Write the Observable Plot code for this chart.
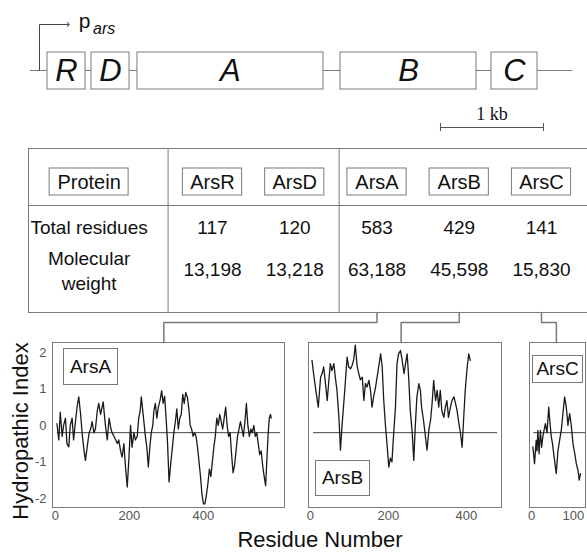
<!DOCTYPE html>
<html>
<head>
<meta charset="utf-8">
<script src="https://cdn.jsdelivr.net/npm/d3@7"></script>
<script src="https://cdn.jsdelivr.net/npm/@observablehq/plot@0.6"></script>
<style>
  html, body { margin:0; padding:0; background:#fff; }
  #root { position:relative; width:587px; height:553px; overflow:hidden; background:#fff;
          font-family:"Liberation Sans", Arial, Helvetica, sans-serif; color:#111; }
  #root svg { position:absolute; overflow:visible; }
  .lbl { position:absolute; box-sizing:border-box; border:1px solid #777; background:#fff;
         display:flex; align-items:center; justify-content:center; font-size:19px; color:#111; }
  .axt { position:absolute; font-size:22px; color:#111; white-space:nowrap; }
</style>
</head>
<body>
<div id="root"></div>
<script>
// ---------------- data ----------------
const genes = ["R", "D", "A", "B", "C"];
const geneStartKb = [0.078, 0.505, 0.951, 2.922, 4.388];
const geneEndKb   = [0.447, 0.874, 2.757, 4.243, 4.835];
const backboneKb = [-0.087, 5.175];
const promoterArrowEndKb = 0.28;
const scaleBarKb = [3.893, 4.893];
const scaleBarLabel = "1 kb";

const proteins = ["ArsR", "ArsD", "ArsA", "ArsB", "ArsC"];
const totalResidues = [117, 120, 583, 429, 141];
const molecularWeight = [13198, 13218, 63188, 45598, 15830];
const tableHeader = "Protein";
const rowLabels = ["Total residues", "Molecular\nweight"];

const arsAResidue = [4,9,13,18,22,27,31,36,40,45,49,54,59,63,68,72,77,81,87,91,95,99,104,108,113,117,122,126,129,135,140,145,150,153,158,163,167,171,176,180,185,189,194,198,203,207,212,216,221,225,229,232,237,243,247,251,255,259,263,266,270,274,278,283,287,291,295,299,303,307,312,316,320,324,328,332,336,340,344,348,352,357,361,364,368,372,376,380,384,388,392,396,400,404,408,412,416,420,424,428,432,436,440,444,448,452,456,460,464,468,472,476,480,484,488,492,496,500,504,508,512,516,520,524,528,532,536,540,544,548,552,556,560,564,568,572,575,578,581,583];
const arsAHydropathy = [0.05,-0.4,0.36,-0.3,0.0,0.2,-0.5,-0.59,0.0,0.2,-0.4,0.1,0.55,0.78,0.3,-0.2,-0.68,-0.96,-0.5,-0.2,-0.1,0.1,-0.2,-0.1,0.4,0.6,0.3,0.5,0.64,0.0,-0.4,0.2,-0.1,-0.2,-0.3,-0.4,-0.5,-0.4,-0.7,-0.87,-0.5,-1.1,-1.69,-1.0,0.0,-0.6,-0.2,-0.4,-0.3,0.2,0.4,0.78,0.3,-0.3,-0.6,-1.14,-0.6,-0.2,0.0,0.4,0.6,0.2,0.5,0.7,0.95,0.6,0.8,0.2,-0.5,-1.55,-1.0,-0.6,-0.2,0.1,0.45,-0.1,0.2,0.3,0.85,0.6,0.9,0.75,0.4,0.0,-0.1,-0.3,-0.2,-0.3,-0.6,-1.0,-1.4,-1.9,-2.15,-2.15,-1.9,-1.6,-1.2,-1.4,-1.0,-0.6,-0.3,0.2,0.0,0.3,0.1,-0.1,0.2,0.5,0.0,-0.3,-0.2,-0.8,-1.3,-1.1,-0.7,-0.3,-0.1,0.1,-0.1,-0.3,0.1,0.6,0.0,-0.3,-0.1,-0.2,0.0,-0.3,-0.2,-0.5,-0.8,-0.7,-1.1,-1.4,-1.65,-0.8,-0.2,0.2,0.3,0.2];

const arsBResidue = [4,8,12,15,20,23,26,30,34,38,43,47,51,55,60,64,68,73,77,81,88,94,98,103,107,111,115,120,124,128,133,137,141,145,150,154,158,162,167,171,175,180,184,188,192,197,201,205,209,213,218,222,226,231,235,240,244,248,252,256,261,265,269,273,278,282,285,290,295,299,304,308,312,316,321,325,329,333,337,342,346,350,354,359,363,368,372,376,380,385,389,393,397,402,406,410];
const arsBHydropathy = [1.78,1.42,1.1,0.87,0.5,0.9,1.32,1.42,1.6,1.2,0.68,1.2,1.69,1.5,1.69,1.3,0.96,0.22,-0.68,0.0,0.96,1.87,1.6,1.55,1.65,1.8,2.2,1.6,1.42,1.25,1.32,0.68,1.15,1.05,1.23,0.96,0.5,0.78,1.05,1.32,1.6,1.96,1.6,0.68,0.05,-0.6,-1.14,-0.9,-1.0,-0.3,0.5,1.69,1.96,2.05,1.8,1.42,1.7,1.96,1.3,0.41,-0.2,-0.96,0.0,0.78,1.14,0.96,0.5,0.14,-0.32,-0.68,-0.1,0.14,0.6,1.23,0.68,0.96,0.5,0.96,0.4,0.22,0.5,0.68,0.22,0.5,0.68,0.78,0.6,0.41,0.1,-0.23,-0.6,0.2,0.96,1.6,1.96,1.78];

const arsCResidue = [3,5,7,11,13,15,18,21,24,27,33,37,41,43,47,50,55,59,63,67,71,75,79,83,87,91,95,99,103,107,111,114,117];
const arsCHydropathy = [-0.59,-0.8,-1.05,-0.41,-0.7,-0.14,-0.78,-0.14,-0.6,-0.3,0.05,-0.2,0.5,0.2,-0.3,-0.5,-0.96,-1.32,-0.7,-0.41,-0.14,0.32,0.78,0.5,0.0,0.32,0.0,-0.5,-0.75,-1.05,-1.23,-1.5,-1.32];

const hydroYTicks = [-2, -1, 0, 1, 2];
const arsAXTicks = [0, 200, 400];
const arsBXTicks = [0, 200, 400];
const arsCXTicks = [0, 100];
const referenceLevel = -0.2;
const yAxisTitle = "Hydropathic Index";
const xAxisTitle = "Residue Number";

// ---------------- layout ----------------
const root = document.getElementById("root");
const GRAY = "#7a7a7a";
function place(el, left, top) { el.style.left = left + "px"; el.style.top = top + "px"; root.appendChild(el); return el; }

// Gene map
const geneRows = genes.map((g, i) => ({name: g, start: geneStartKb[i], end: geneEndKb[i]}));
const geneMap = Plot.plot({
  width: 587, height: 140, margin: 0,
  style: {background: "transparent", fontFamily: "Liberation Sans, Arial, sans-serif", color: "#111"},
  x: {domain: [0, 1], range: [39, 142], axis: null},
  y: {domain: [0, 140], range: [0, 140], axis: null},
  marks: [
    Plot.ruleY([70], {x1: backboneKb[0], x2: backboneKb[1], stroke: GRAY}),
    Plot.rect(geneRows, {x1: "start", x2: "end", y1: 52, y2: 89, fill: "white", stroke: GRAY}),
    Plot.text(geneRows, {x: d => (d.start + d.end) / 2, y: 71, text: "name", fontSize: 31, fontStyle: "italic", fill: "#111"}),
    Plot.line([[0, 70], [0, 24], [promoterArrowEndKb, 24]], {stroke: "#444", strokeWidth: 1, markerEnd: "arrow"}),
    Plot.text(["p"], {x: 0.38, y: 21, text: d => d, fontSize: 21, textAnchor: "start", fill: "#111"}),
    Plot.text(["ars"], {x: 0.52, y: 28, text: d => d, fontSize: 16, fontStyle: "italic", textAnchor: "start", fill: "#111"}),
    Plot.ruleY([127], {x1: scaleBarKb[0], x2: scaleBarKb[1], stroke: "#555"}),
    Plot.ruleX(scaleBarKb, {y1: 123, y2: 131, stroke: "#555"}),
    Plot.text([scaleBarLabel], {x: (scaleBarKb[0] + scaleBarKb[1]) / 2, y: 114, text: d => d, fontSize: 18, fontFamily: "Liberation Serif, Times New Roman, serif", fill: "#111"})
  ]
});
place(geneMap, 0, 0);

// Hydropathy plot geometry (frame pixel bounds)
const FRAME_TOP = 342, FRAME_BOTTOM = 507;
const hydroSpecs = [
  {name: "ArsA", res: arsAResidue, val: arsAHydropathy, ticks: arsAXTicks, frame: [52, 284], domain: [-8, 619], base: [5, 608], showY: true, marginLeft: 30, marginRight: 3},
  {name: "ArsB", res: arsBResidue, val: arsBHydropathy, ticks: arsBXTicks, frame: [308, 501], domain: [-5, 490], base: [8, 480], showY: false, marginLeft: 4, marginRight: 4},
  {name: "ArsC", res: arsCResidue, val: arsCHydropathy, ticks: arsCXTicks, frame: [529, 585], domain: [-5, 129], base: [5, 129], showY: false, marginLeft: 4, marginRight: 2}
];

// Table
const colScale = d3.scaleLinear().domain([0, 4]).range([212, 541]);
const TT = 140; // table svg top
const headerRows = [{x: -1.5, text: tableHeader, half: 0.48}].concat(proteins.map((p, i) => ({x: i, text: p, half: 0.36})));
const totalRows = totalResidues.map((v, i) => ({x: i, text: String(v)}));
const mwRows = molecularWeight.map((v, i) => ({x: i, text: d3.format(",")(v)}));
const connectorColumns = [2, 3, 4];
const connectors = [];
hydroSpecs.forEach((s, k) => {
  const c = connectorColumns[k];
  const bottomX = colScale.invert(s.frame[0] + 0.48 * (s.frame[1] - s.frame[0]));
  [[c, 172], [c, 182], [bottomX, 182], [bottomX, FRAME_TOP - TT]].forEach(p => connectors.push({x: p[0], y: p[1], k}));
});
const table = Plot.plot({
  width: 587, height: 215, margin: 0,
  style: {background: "transparent", fontFamily: "Liberation Sans, Arial, sans-serif", color: "#111"},
  x: {domain: colScale.domain(), range: colScale.range(), axis: null},
  y: {domain: [0, 215], range: [0, 215], axis: null},
  marks: [
    Plot.ruleY([8, 65, 172], {x1: colScale.invert(28), x2: 5, stroke: GRAY}),
    Plot.ruleX([colScale.invert(28), -0.54, 1.54], {y1: 8, y2: 172, stroke: GRAY}),
    Plot.rect(headerRows, {x1: d => d.x - d.half, x2: d => d.x + d.half, y1: 28, y2: 55, fill: "white", stroke: GRAY}),
    Plot.text(headerRows, {x: "x", y: 42, text: "text", fontSize: 20, fill: "#111"}),
    Plot.text([rowLabels[0]], {x: -1.5, y: 87, text: d => d, fontSize: 19, fill: "#111"}),
    Plot.text(totalRows, {x: "x", y: 87, text: "text", fontSize: 19, fill: "#111"}),
    Plot.text([rowLabels[1]], {x: -1.5, y: 129, text: d => d, fontSize: 19, lineHeight: 1.32, fill: "#111"}),
    Plot.text(mwRows, {x: "x", y: 129, text: "text", fontSize: 19, fill: "#111"}),
    Plot.line(connectors, {x: "x", y: "y", z: "k", stroke: GRAY})
  ]
});
place(table, 0, TT);

// Hydropathy plots
hydroSpecs.forEach(s => {
  const data = s.res.map((r, i) => ({r, v: s.val[i]}));
  const w = s.marginLeft + (s.frame[1] - s.frame[0]) + s.marginRight;
  const marks = [
    Plot.frame({stroke: GRAY}),
    Plot.ruleY([referenceLevel], {x1: s.base[0], x2: s.base[1], stroke: "#444"}),
    Plot.line(data, {x: "r", y: "v", stroke: "#1a1a1a", strokeWidth: 1.3}),
    Plot.axisX(s.ticks, {tickSize: 0, tickPadding: 3, label: null, tickFormat: d => String(d)})
  ];
  if (s.showY) marks.push(Plot.axisY(hydroYTicks, {tickSize: 0, tickPadding: 6, label: null, tickFormat: d => String(d)}));
  const p = Plot.plot({
    width: w, height: 190, marginTop: 5, marginBottom: 20, marginLeft: s.marginLeft, marginRight: s.marginRight,
    style: {background: "transparent", fontFamily: "Liberation Sans, Arial, sans-serif", fontSize: "13px", color: "#555"},
    x: {domain: s.domain},
    y: {domain: [-2.25, 2.27], axis: s.showY ? undefined : null},
    marks
  });
  place(p, s.frame[0] - s.marginLeft, FRAME_TOP - 5);
});

// Boxed labels inside hydropathy plots
function box(text, left, top, w, h) {
  const d = document.createElement("div");
  d.className = "lbl"; d.textContent = text;
  d.style.width = w + "px"; d.style.height = h + "px";
  place(d, left, top);
}
box("ArsA", 63, 348, 55, 37);
box("ArsB", 315, 460, 55, 36);
box("ArsC", 532, 355, 51, 28);

// Axis titles
const yt = document.createElement("div");
yt.className = "axt"; yt.textContent = yAxisTitle;
yt.style.transform = "translate(-50%, -50%) rotate(-90deg)";
place(yt, 21, 431);
const xt = document.createElement("div");
xt.className = "axt"; xt.textContent = xAxisTitle;
xt.style.transform = "translate(-50%, -50%)";
place(xt, 320, 540);
</script>
</body>
</html>
